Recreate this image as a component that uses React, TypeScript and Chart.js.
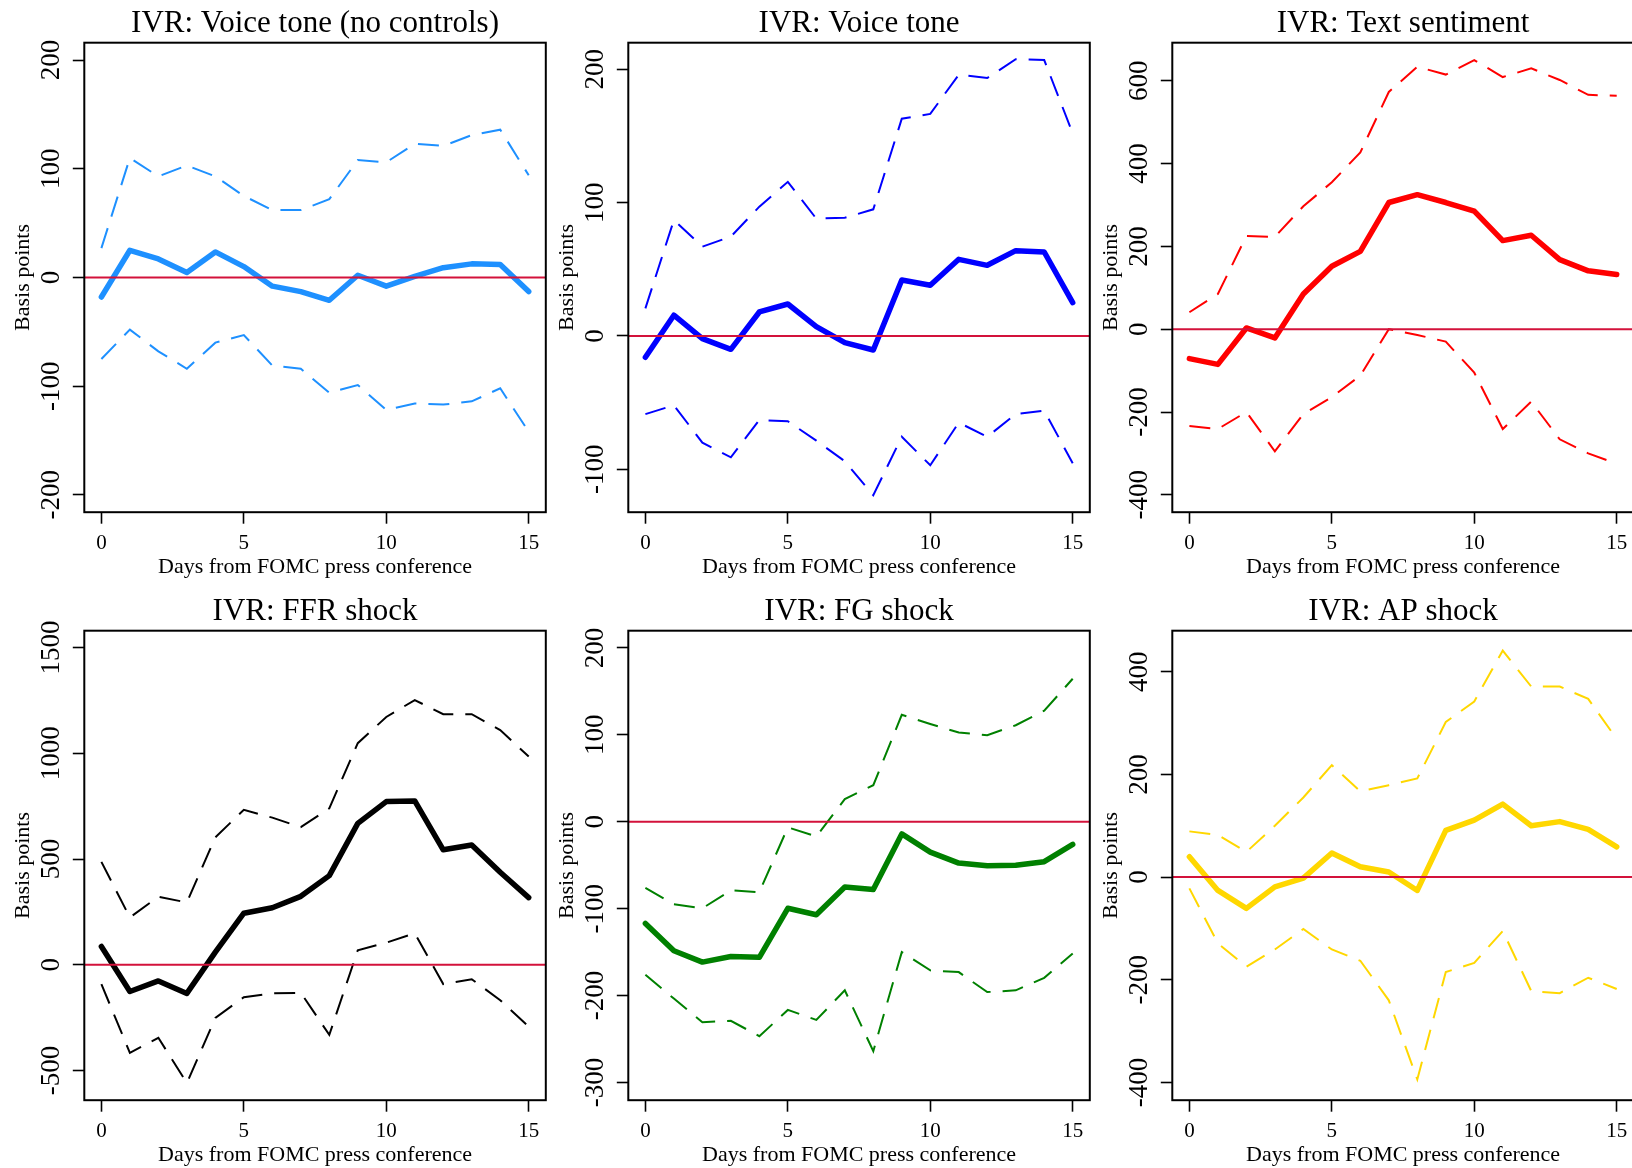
import React, { useEffect, useRef } from "react";
import { Chart, registerables } from "chart.js";

Chart.register(...registerables);

// ---------- data ----------
const days = [0, 1, 2, 3, 4, 5, 6, 7, 8, 9, 10, 11, 12, 13, 14, 15];
const xTicks = [0, 5, 10, 15];

// IVR: Voice tone (no controls)
const toneNcEst = [-18, 25, 17, 4.5, 23.5, 10, -8, -13, -21, 2, -8, 1, 9, 12.5, 12, -13];
const toneNcUpper = [27, 110, 93, 103, 93, 75, 62, 62, 72, 108, 106, 123, 121, 131, 136, 94];
const toneNcLower = [-75, -48, -68, -84, -60, -53, -81, -84, -106, -99, -122, -116, -117, -114, -102, -142];
const toneNcTicks = [-200, -100, 0, 100, 200];

// IVR: Voice tone
const toneEst = [-16, 15.6, -2, -10, 18, 24, 7, -5, -10.5, 42, 38, 57.5, 53, 64, 63, 25];
const toneUpper = [20.7, 87, 67, 74.5, 97, 115.6, 88, 88.7, 95, 163, 166.6, 196, 193.5, 207.6, 207, 152];
const toneLower = [-58.6, -52, -80, -91, -63, -64, -78.5, -94, -119.5, -75.6, -97, -65, -75.6, -58.6, -56, -95.5];
const toneTicks = [-100, 0, 100, 200];

// IVR: Text sentiment
const textEst = [-71, -85, 3, -21, 85, 152, 188, 306, 325, 306, 285, 214, 227, 168, 141, 132];
const textUpper = [41, 85, 225, 223, 297, 355, 427, 573, 634, 615, 650, 609, 630, 602, 566, 564];
const textLower = [-234, -241, -200, -295, -205, -164, -112, 0, -14, -30, -105, -241, -175, -266, -300, -325];
const textTicks = [-400, -200, 0, 200, 400, 600];

// IVR: FFR shock
const ffrEst = [87, -126, -76, -135, 60, 244, 270, 324, 422, 669, 772, 775, 544, 567, 438, 318];
const ffrUpper = [487, 224, 322, 295, 603, 733, 696, 651, 740, 1048, 1172, 1252, 1185, 1185, 1110, 985];
const ffrLower = [-91, -416, -345, -559, -251, -153, -135, -132, -331, 69, 105, 149, -91, -68, -167, -292];
const ffrTicks = [-500, 0, 500, 1000, 1500];

// IVR: FG shock
const fgEst = [-117, -148.5, -161.5, -155, -156, -99.6, -107, -75, -78, -14, -35, -47.6, -50.6, -50, -46, -26];
const fgUpper = [-76, -95, -99.6, -79, -81, -6.5, -17, 26, 42, 123, 112.5, 102.6, 99.6, 111, 127.7, 164.5];
const fgLower = [-176, -203.5, -230.7, -229, -246.8, -216.5, -228, -194, -264, -150, -171, -173, -196, -194, -179.6, -151.5];
const fgTicks = [-300, -200, -100, 0, 100, 200];

// IVR: AP shock
const apEst = [39.6, -26, -61, -19, -2, 47, 20, 10, -26, 91, 111, 142, 100, 108, 93, 59];
const apUpper = [89, 82, 49, 100, 155, 218, 167, 179, 192, 302, 342, 441, 371, 371, 347, 269];
const apLower = [-22, -129, -174.5, -141, -101, -141, -163, -240, -394, -185, -167, -105, -222, -226, -196, -218];
const apTicks = [-400, -200, 0, 200, 400];

// ---------- panels ----------
type Panel = {
  title: string;
  color: string;
  est: number[];
  upper: number[];
  lower: number[];
  yTicks: number[];
  yMin: number;
  yMax: number;
};

const panels: Panel[] = [
  { title: "IVR: Voice tone (no controls)", color: "#1E90FF", est: toneNcEst, upper: toneNcUpper, lower: toneNcLower, yTicks: toneNcTicks, yMin: -216, yMax: 216 },
  { title: "IVR: Voice tone", color: "#0000FF", est: toneEst, upper: toneUpper, lower: toneLower, yTicks: toneTicks, yMin: -132.2, yMax: 220 },
  { title: "IVR: Text sentiment", color: "#FF0000", est: textEst, upper: textUpper, lower: textLower, yTicks: textTicks, yMin: -442, yMax: 692 },
  { title: "IVR: FFR shock", color: "#000000", est: ffrEst, upper: ffrUpper, lower: ffrLower, yTicks: ffrTicks, yMin: -640, yMax: 1580 },
  { title: "IVR: FG shock", color: "#008000", est: fgEst, upper: fgUpper, lower: fgLower, yTicks: fgTicks, yMin: -320.4, yMax: 219.8 },
  { title: "IVR: AP shock", color: "#FFD700", est: apEst, upper: apUpper, lower: apLower, yTicks: apTicks, yMin: -434.5, yMax: 479.8 },
];

const FONT = '"Liberation Serif", "Times New Roman", serif';
const CANVAS_W = 560;
const CANVAS_H = 588;
const PLOT_LEFT = 84.3;
const PLOT_W = 461.5;
const PLOT_TOP = 42.7;
const PLOT_BOTTOM = 512.2;
const TICK_LEN = 11.5;
const Y_LABEL_SIZE = 27;
const Y_LABEL_CENTER = 51.7;
const TITLE_SIZE = 31;

function widestLabel(labels: string[], size: number): number {
  const c = document.createElement("canvas").getContext("2d");
  if (!c) return size * 2;
  c.font = `${size}px ${FONT}`;
  return Math.max(...labels.map((l) => c.measureText(l).width));
}

const boxPlugin = {
  id: "rbox",
  afterDraw(chart: any) {
    const { ctx, chartArea } = chart;
    ctx.save();
    ctx.strokeStyle = "#000";
    ctx.lineWidth = 2;
    ctx.strokeRect(chartArea.left, chartArea.top, chartArea.right - chartArea.left, chartArea.bottom - chartArea.top);
    ctx.restore();
  },
};

const zeroLinePlugin = {
  id: "zeroline",
  afterDatasetsDraw(chart: any) {
    const { ctx, chartArea, scales } = chart;
    const y = scales.y.getPixelForValue(0);
    ctx.save();
    ctx.strokeStyle = "#D3123B";
    ctx.lineWidth = 2;
    ctx.beginPath();
    ctx.moveTo(chartArea.left, y);
    ctx.lineTo(chartArea.right, y);
    ctx.stroke();
    ctx.restore();
  },
};

function makeConfig(p: Panel): any {
  const yLabels = p.yTicks.map((v) => String(v));
  const widest = widestLabel(yLabels, Y_LABEL_SIZE);
  const yPad = PLOT_LEFT - TICK_LEN - Y_LABEL_CENTER - widest / 2;
  const toPts = (arr: number[]) => days.map((d, i) => ({ x: d, y: arr[i] }));
  const titleLH = TITLE_SIZE * 1.2;
  const titlePadTop = 5;
  return {
    type: "line",
    data: {
      datasets: [
        {
          data: toPts(p.est),
          borderColor: p.color,
          borderWidth: 5.5,
          borderJoinStyle: "round",
          borderCapStyle: "round",
          pointRadius: 0,
          tension: 0,
          fill: false,
        },
        {
          data: toPts(p.upper),
          borderColor: p.color,
          borderWidth: 2,
          borderDash: [21, 12],
          pointRadius: 0,
          tension: 0,
          fill: false,
        },
        {
          data: toPts(p.lower),
          borderColor: p.color,
          borderWidth: 2,
          borderDash: [21, 12],
          pointRadius: 0,
          tension: 0,
          fill: false,
        },
      ],
    },
    options: {
      animation: false,
      responsive: false,
      devicePixelRatio: 1,
      events: [],
      layout: { padding: { left: 0, right: CANVAS_W - PLOT_LEFT - PLOT_W, top: 0, bottom: 0 } },
      plugins: {
        legend: { display: false },
        tooltip: { enabled: false },
        title: {
          display: true,
          text: p.title,
          fullSize: false,
          color: "#000",
          font: { family: FONT, size: TITLE_SIZE, weight: "normal", lineHeight: 1.2 },
          padding: { top: titlePadTop, bottom: PLOT_TOP - titleLH - titlePadTop },
        },
      },
      scales: {
        x: {
          type: "linear",
          position: "bottom",
          min: -0.6,
          max: 15.6,
          afterBuildTicks: (ax: any) => {
            ax.ticks = xTicks.map((v) => ({ value: v }));
          },
          afterFit: (ax: any) => {
            ax.height = CANVAS_H - PLOT_BOTTOM;
          },
          grid: {
            display: true,
            drawOnChartArea: false,
            drawTicks: true,
            tickLength: TICK_LEN,
            tickWidth: 1.6,
            tickColor: "#000",
          },
          border: { display: false },
          ticks: {
            color: "#000",
            font: { family: FONT, size: 21 },
            padding: 7,
            minRotation: 0,
            maxRotation: 0,
            autoSkip: false,
            callback: (v: any) => String(v),
          },
          title: {
            display: true,
            text: "Days from FOMC press conference",
            color: "#000",
            font: { family: FONT, size: 22 },
            padding: { top: 0, bottom: 7.5 },
          },
        },
        y: {
          type: "linear",
          position: "left",
          min: p.yMin,
          max: p.yMax,
          afterBuildTicks: (ax: any) => {
            ax.ticks = p.yTicks.map((v) => ({ value: v }));
          },
          afterFit: (ax: any) => {
            ax.width = PLOT_LEFT;
          },
          grid: {
            display: true,
            drawOnChartArea: false,
            drawTicks: true,
            tickLength: TICK_LEN,
            tickWidth: 1.6,
            tickColor: "#000",
          },
          border: { display: false },
          ticks: {
            color: "#000",
            font: { family: FONT, size: Y_LABEL_SIZE },
            minRotation: 90,
            maxRotation: 90,
            crossAlign: "center",
            padding: yPad,
            autoSkip: false,
            callback: (v: any) => String(v),
          },
          title: {
            display: true,
            text: "Basis points",
            color: "#000",
            font: { family: FONT, size: 22 },
            padding: { top: 9.8, bottom: 0 },
          },
        },
      },
    },
    plugins: [boxPlugin, zeroLinePlugin],
  };
}

function PanelChart({ p, left, top }: { p: Panel; left: number; top: number }) {
  const ref = useRef<HTMLCanvasElement | null>(null);
  useEffect(() => {
    if (!ref.current) return;
    const chart = new Chart(ref.current, makeConfig(p));
    return () => chart.destroy();
  }, [p]);
  return (
    <canvas
      ref={ref}
      width={CANVAS_W}
      height={CANVAS_H}
      style={{ position: "absolute", left, top, width: CANVAS_W, height: CANVAS_H }}
    />
  );
}

export default function App() {
  return (
    <div
      style={{
        position: "absolute",
        left: 0,
        top: 0,
        width: 1632,
        height: 1168,
        overflow: "hidden",
        background: "#fff",
      }}
    >
      {panels.map((p, i) => (
        <PanelChart key={i} p={p} left={544 * (i % 3)} top={588 * Math.floor(i / 3)} />
      ))}
    </div>
  );
}
